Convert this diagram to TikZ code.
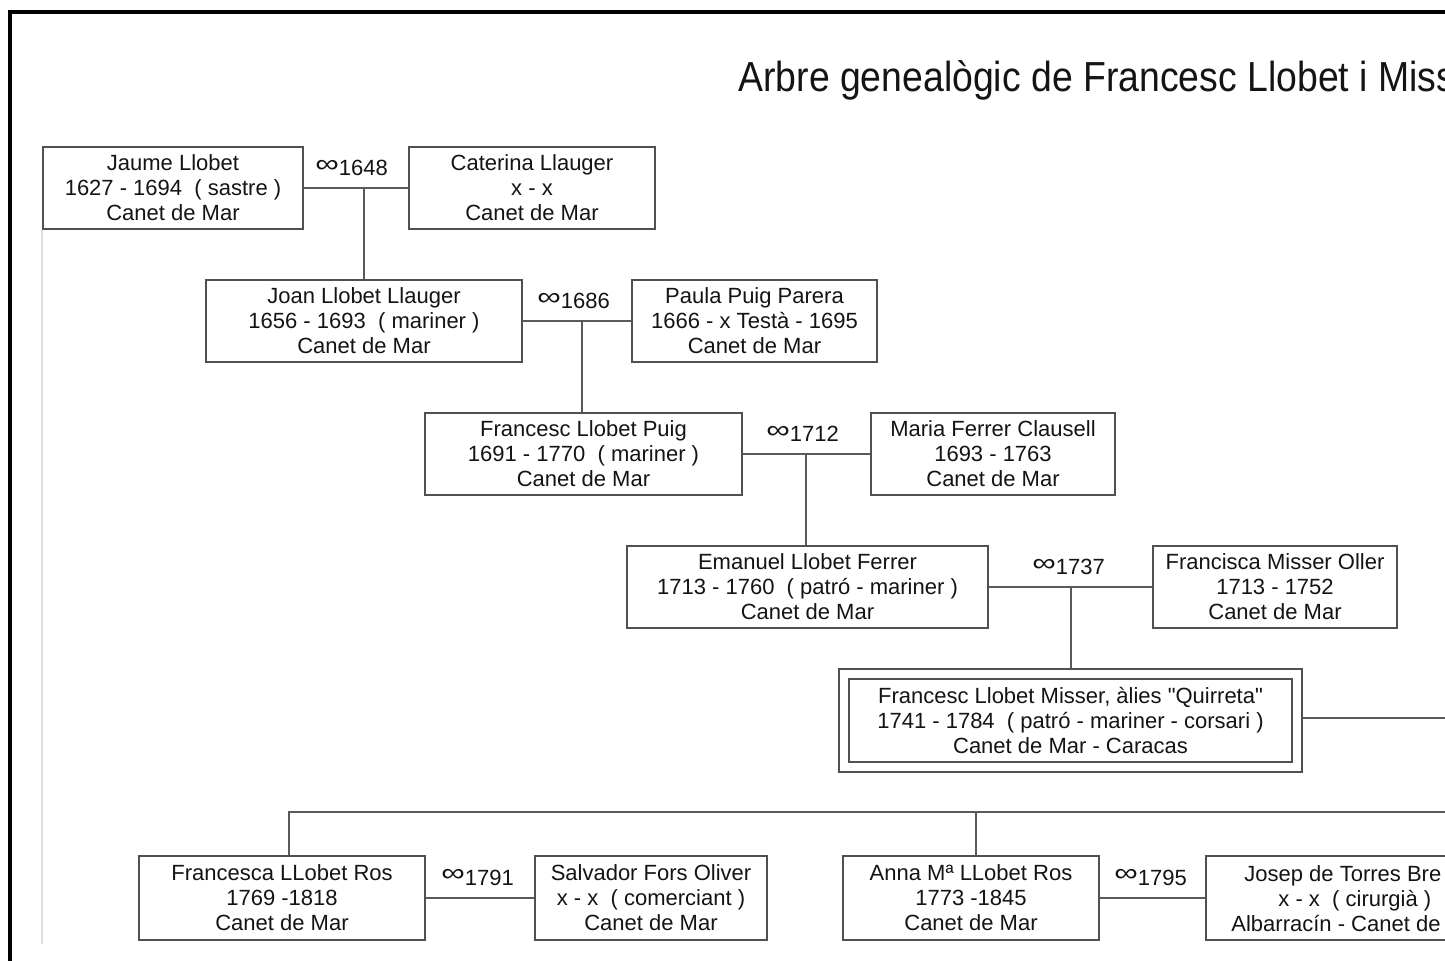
\documentclass[tikz,border=0pt]{standalone}
\usepackage{fontspec}
\setmainfont{Liberation Sans}
\usetikzlibrary{calc}
\definecolor{boxc}{HTML}{505050}
\definecolor{linec}{HTML}{5A5A5A}
\definecolor{txt}{HTML}{141414}
\definecolor{faint}{HTML}{DDDDDD}
\newcommand{\wedd}[1]{\raisebox{1.8pt}{\scalebox{1.5}[1.15]{∞}}#1}
\begin{document}
\begin{tikzpicture}[x=0.5pt,y=-0.5pt,
  pbox/.style={draw=boxc, line width=1pt, fill=white, inner sep=0pt, align=center, text=txt,
    font=\fontsize{11pt}{12.5pt}\selectfont},
  conn/.style={draw=linec, line width=0.9pt},
  weddlbl/.style={anchor=base west, inner sep=0pt, text=txt, font=\fontsize{11pt}{12pt}\selectfont},
  linetxt/.style={anchor=base west, inner sep=0pt, text=txt, font=\fontsize{11pt}{12pt}\selectfont}]
\useasboundingbox (0,0) rectangle (1445,961);
\clip (0,0) rectangle (1445,961);
\fill[white] (0,0) rectangle (1445,961);

% frame
\draw[line width=1.6pt, black] (10,961) -- (10,12) -- (1450,12);

% title
\node[anchor=base west, inner sep=0pt, text=txt, font=\fontsize{21pt}{24pt}\selectfont] (title) at (738,92)
  {\scalebox{0.89}[1]{Arbre genealògic de Francesc Llobet i Miss}};

% generation 1
\node[pbox, minimum width=130pt, minimum height=41pt] (jaume) at (173,188)
  {Jaume Llobet\\1627 - 1694~~( sastre )\\Canet de Mar};
\node[pbox, minimum width=123pt, minimum height=41pt] (caterina) at (532,188)
  {Caterina Llauger\\x - x\\Canet de Mar};
\node[weddlbl] (w1) at (315,176) {\wedd{1648}};

% generation 2
\node[pbox, minimum width=158pt, minimum height=41pt] (joan) at (364,321)
  {Joan Llobet Llauger\\1656 - 1693~~( mariner )\\Canet de Mar};
\node[pbox, minimum width=122.5pt, minimum height=41pt] (paula) at (754.5,321)
  {Paula Puig Parera\\1666 - x Testà - 1695\\Canet de Mar};
\node[weddlbl] (w2) at (537,309) {\wedd{1686}};

% generation 3
\node[pbox, minimum width=158.5pt, minimum height=41pt] (fpuig) at (583.5,454)
  {Francesc Llobet Puig\\1691 - 1770~~( mariner )\\Canet de Mar};
\node[pbox, minimum width=122pt, minimum height=41pt] (maria) at (993,454)
  {Maria Ferrer Clausell\\1693 - 1763\\Canet de Mar};
\node[weddlbl] (w3) at (766,442) {\wedd{1712}};

% generation 4
\node[pbox, minimum width=180.5pt, minimum height=41pt] (emanuel) at (807.5,587)
  {Emanuel Llobet Ferrer\\1713 - 1760~~( patró - mariner )\\Canet de Mar};
\node[pbox, minimum width=122pt, minimum height=41pt] (fmisser) at (1275,587)
  {Francisca Misser Oller\\1713 - 1752\\Canet de Mar};
\node[weddlbl] (w4) at (1032,575) {\wedd{1737}};

% generation 5 (double box)
\node[draw=boxc, line width=1pt, fill=white, minimum width=231.5pt, minimum height=51.5pt, inner sep=0pt] (quirouter) at (1070.5,720.5) {};
\node[pbox, minimum width=221.5pt, minimum height=41.5pt] (quirreta) at (1070.5,720.5)
  {Francesc Llobet Misser, àlies \textquotedbl Quirreta\textquotedbl\\1741 - 1784~~( patró - mariner - corsari )\\Canet de Mar - Caracas};

% generation 6
\node[pbox, minimum width=143pt, minimum height=42pt] (fca) at (282,898)
  {Francesca LLobet Ros\\1769 -1818\\Canet de Mar};
\node[pbox, minimum width=116pt, minimum height=42pt] (salvador) at (651,898)
  {Salvador Fors Oliver\\x - x~~( comerciant )\\Canet de Mar};
\node[weddlbl] (w5) at (441,885) {\wedd{1791}};
\node[pbox, minimum width=128pt, minimum height=42pt] (anna) at (971,898)
  {Anna Mª LLobet Ros\\1773 -1845\\Canet de Mar};
\node[weddlbl] (w6) at (1114,885) {\wedd{1795}};
\node[pbox, minimum width=153pt, minimum height=42pt] (josep) at (1359,898) {};
\node[linetxt] (j1) at (1244,881) {Josep de Torres Bre};
\node[linetxt] (j2) at (1278,906) {x - x~~( cirurgià )};
\node[linetxt] (j3) at (1231,931) {Albarracín - Canet de};

% coordinates for connectors
\coordinate (m1) at (364,188);
\coordinate (m2) at (582,321);
\coordinate (m3) at (806,454);
\coordinate (m4) at (1071,587);
\coordinate (qr) at (1450,718);
\coordinate (br) at (1450,812);
\coordinate (bl) at (289,812);
\coordinate (bm) at (976,812);

% connectors
\draw[conn] (jaume.east) -- (caterina.west);
\draw[conn] (m1) -- (joan.north);
\draw[conn] (joan.east) -- (paula.west);
\draw[conn] (m2) -- (m2 |- fpuig.north);
\draw[conn] (fpuig.east) -- (maria.west);
\draw[conn] (m3) -- (m3 |- emanuel.north);
\draw[conn] (emanuel.east) -- (fmisser.west);
\draw[conn] (m4) -- (m4 |- quirouter.north);
\draw[conn] (quirouter.east |- qr) -- (qr);
\draw[conn] (br) -- (bl) -- (bl |- fca.north);
\draw[conn] (bm) -- (bm |- anna.north);
\draw[conn] (fca.east) -- (salvador.west);
\draw[conn] (anna.east) -- (josep.west);

% faint guide line
\draw[faint, line width=0.8pt] (jaume.south west) -- ++(0,714);
\end{tikzpicture}
\end{document}
